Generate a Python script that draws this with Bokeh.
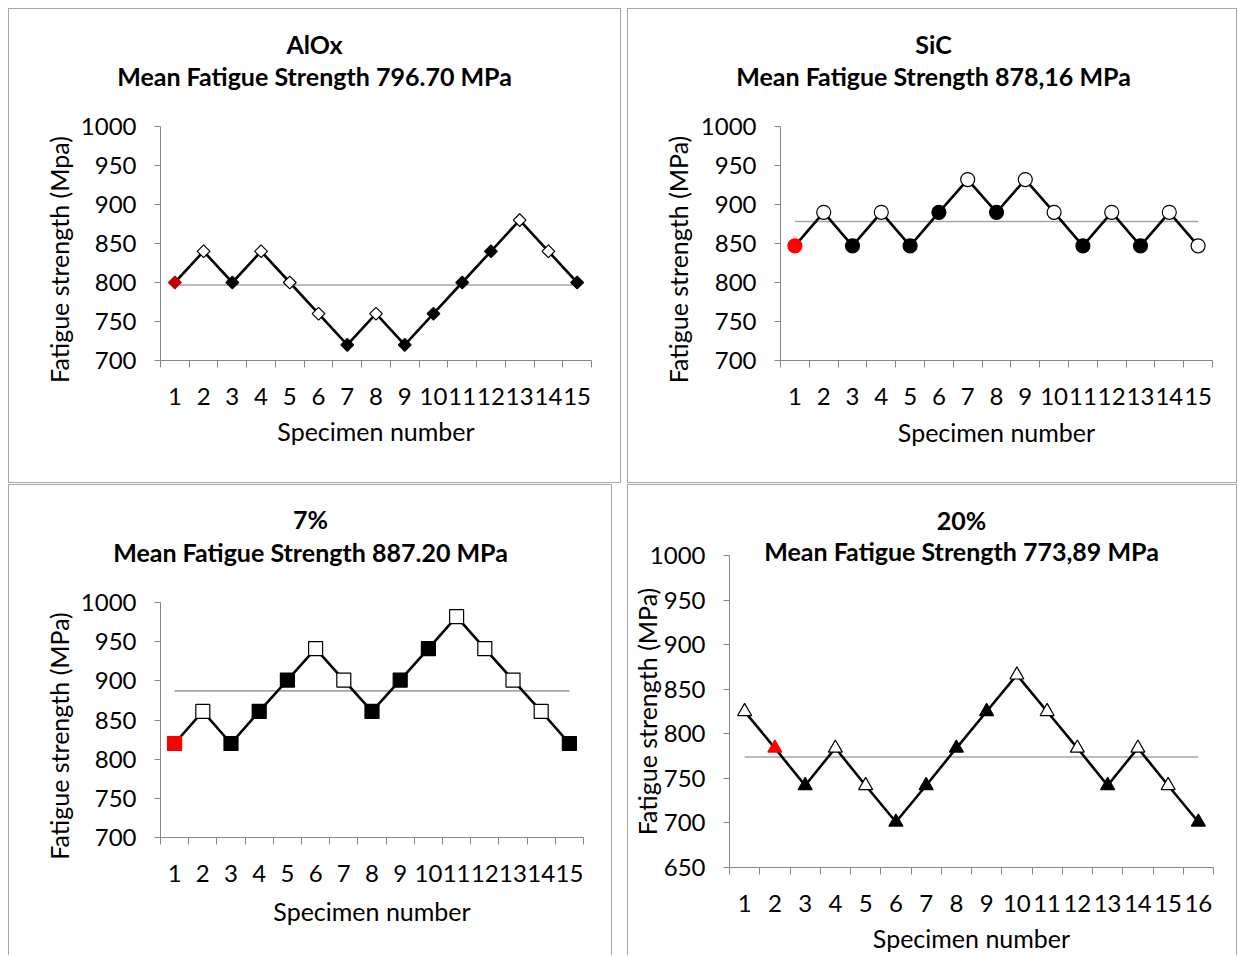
import math
import subprocess
from bokeh.plotting import figure
from bokeh.models import Range1d, FixedTicker, ColumnDataSource, Title
from bokeh.layouts import row, column
from bokeh.embed import file_html
from bokeh.resources import INLINE

# ---------------- data ----------------
specimens_15 = list(range(1, 16))
specimens_16 = list(range(1, 17))

yticks_700 = [700, 750, 800, 850, 900, 950, 1000]
yticks_650 = [650, 700, 750, 800, 850, 900, 950, 1000]

# outcome: S = start specimen (red), R = run-out (open), F = failure (filled)
alox_strength = [800, 840, 800, 840, 800, 760, 720, 760, 720, 760, 800, 840, 880, 840, 800]
alox_outcome = ["S", "R", "F", "R", "R", "R", "F", "R", "F", "F", "F", "F", "R", "R", "F"]
alox_mean = 796.70

sic_strength = [847, 890, 847, 890, 847, 890, 932, 890, 932, 890, 847, 890, 847, 890, 847]
sic_outcome = ["S", "R", "F", "R", "F", "F", "R", "F", "R", "R", "F", "R", "F", "R", "R"]
sic_mean = 878.16

p7_strength = [820, 861, 820, 861, 901, 941, 901, 861, 901, 941, 982, 941, 901, 861, 820]
p7_outcome = ["S", "R", "F", "F", "F", "R", "R", "F", "F", "F", "R", "R", "R", "R", "F"]
p7_mean = 887.20

p20_strength = [825, 784, 742, 784, 742, 701, 742, 784, 825, 866, 825, 784, 742, 784, 742, 701]
p20_outcome = ["R", "S", "F", "R", "R", "F", "F", "F", "F", "R", "R", "R", "F", "R", "R", "F"]
p20_mean = 773.89

titles = [
    ("AlOx", "Mean Fatigue Strength 796.70 MPa"),
    ("SiC", "Mean Fatigue Strength 878,16  MPa"),
    ("7%", "Mean Fatigue Strength 887.20 MPa"),
    ("20%", "Mean Fatigue Strength 773,89 MPa"),
]
y_labels = ["Fatigue strength (Mpa)", "Fatigue strength (MPa)",
            "Fatigue strength (MPa)", "Fatigue strength (MPa)"]
x_label = "Specimen number"

FONT = "Lato"
AXIS_GRAY = "#868686"
BORDER = "1px solid #a6a6a6"
TITLE_PX = 25
LABEL_PX = 25
T_H = 31.1      # height Bokeh gives one title line at TITLE_PX
VIS = 1.3       # visual centre of capitals sits this much above the box centre


def text_width(text, size, bold):
    try:
        from PIL import ImageFont
        path = subprocess.run(["fc-match", "-f", "%{file}", "Lato:bold" if bold else "Lato"],
                              capture_output=True, text=True, timeout=5).stdout.strip()
        f = ImageFont.truetype(path, size)
        return f.getlength(text)
    except Exception:
        return 0.55 * size * len(text)


def add_titles(p, lines, d2, d1, cx):
    """Title lines whose centres lie d2 and d1 pixels above the frame top,
    horizontally centred at cx (pixels right of the frame's left edge)."""
    T = T_H
    w1 = text_width(" ".join(lines[0].split()), TITLE_PX, True)
    w2 = text_width(" ".join(lines[1].split()), TITLE_PX, True)
    kw = dict(text_font=FONT, text_font_style="bold", text_font_size=f"{TITLE_PX}px",
              text_color="black", align="left")
    spacer = 0.0
    s2 = 2 * (d2 - T / 2 - VIS)
    if s2 > 0:
        spacer = s2 / 2
        s2 = 0.0
    if spacer > 0:
        p.add_layout(Title(text=" ", text_font_size="1px", standoff=spacer - 1.2,
                           align="left", offset=0), "above")
    p.add_layout(Title(text=lines[1], standoff=s2, vertical_align="bottom",
                       offset=cx - w2 / 2, **kw), "above")
    panel2_top = spacer + T + s2
    s1 = 2 * (d1 - panel2_top - T / 2 - VIS)
    p.add_layout(Title(text=lines[0], standoff=s1, vertical_align="bottom",
                       offset=cx - w1 / 2, **kw), "above")


def style_label(ax, text, standoff):
    ax.axis_label = text
    ax.axis_label_text_font = FONT
    ax.axis_label_text_font_size = f"{LABEL_PX}px"
    ax.axis_label_text_font_style = "normal"
    ax.axis_label_text_color = "black"
    ax.axis_label_standoff = standoff


def shifted_label(text, shift_px):
    """The value-axis title sits shift_px below the plot's middle: pad its far end
    with no-break spaces so that the centred label moves along the axis."""
    if shift_px <= 0:
        return text
    nb = text_width("\u00a0", LABEL_PX, False)
    if nb <= 0:
        nb = 0.2 * LABEL_PX
    return text + "\u00a0" * max(0, round(2 * shift_px / nb))


def make_panel(spec, strength, outcome, mean, yticks, title, ylab,
               marker, marker_size, red, angle,
               w, h, ml, mr, mt, mb, title_cx, d1, d2,
               ylab_standoff, xlab_standoff, ylab_shift, border_styles):
    n = len(spec)
    p = figure(width=w, height=h, output_backend="svg", toolbar_location=None,
               x_range=Range1d(0.5, n + 0.5),
               y_range=Range1d(yticks[0], yticks[-1]),
               min_border_left=ml, min_border_right=mr,
               min_border_top=mt, min_border_bottom=mb,
               outline_line_color=None, background_fill_color="white",
               border_fill_color="white", styles=border_styles)
    p.xgrid.visible = False
    p.ygrid.visible = False

    xa = p.xaxis[0]
    xa.ticker = FixedTicker(ticks=spec, minor_ticks=[k - 0.5 for k in spec] + [n + 0.5])
    xa.major_tick_out = 0
    xa.major_tick_in = 0
    xa.minor_tick_out = 7
    xa.minor_tick_in = 0
    xa.minor_tick_line_color = AXIS_GRAY
    xa.axis_line_color = AXIS_GRAY
    xa.major_label_text_font = FONT
    xa.major_label_text_font_size = "24px"
    xa.major_label_text_color = "black"
    xa.major_label_standoff = 20
    style_label(xa, x_label, xlab_standoff)

    ya = p.yaxis[0]
    ya.ticker = FixedTicker(ticks=yticks, minor_ticks=[])
    ya.major_tick_out = 6
    ya.major_tick_in = 0
    ya.minor_tick_out = 0
    ya.minor_tick_in = 0
    ya.major_tick_line_color = AXIS_GRAY
    ya.axis_line_color = AXIS_GRAY
    ya.major_label_text_font = FONT
    ya.major_label_text_font_size = "24px"
    ya.major_label_text_color = "black"
    ya.major_label_standoff = 18
    style_label(ya, shifted_label(ylab, ylab_shift), ylab_standoff)

    # mean line
    p.line([spec[0], spec[-1]], [mean, mean], line_color="#a6a6a6", line_width=1.6)
    # staircase line
    p.line(spec, strength, line_color="black", line_width=2.6)

    fill = {"S": red, "R": "white", "F": "black"}
    edge = {"S": red, "R": "black", "F": "black"}
    src = ColumnDataSource(dict(
        x=spec, y=strength,
        fc=[fill[o] for o in outcome],
        lc=[edge[o] for o in outcome],
    ))
    p.scatter("x", "y", source=src, marker=marker, size=marker_size, angle=angle,
              fill_color="fc", line_color="lc", line_width=1.2)

    add_titles(p, title, d2, d1, title_cx)
    return p


top_border = {"border": BORDER}
bottom_row_border = {"border-left": BORDER, "border-top": BORDER, "border-right": BORDER}

p1 = make_panel(specimens_15, alox_strength, alox_outcome, alox_mean, yticks_700,
                titles[0], y_labels[0], "square", 9, "#c00000", math.pi / 4,
                613, 475, 151, 31, 117, 124, 154, 81, 50.5, 4, 8, 15.5, top_border)
p2 = make_panel(specimens_15, sic_strength, sic_outcome, sic_mean, yticks_700,
                titles[1], y_labels[1], "circle", 14, "#ff0000", 0,
                610, 475, 152, 26, 117, 124, 153, 81, 50.5, 5, 9, 15.5, top_border)
p3 = make_panel(specimens_15, p7_strength, p7_outcome, p7_mean, yticks_700,
                titles[2], y_labels[2], "square", 14, "#ff0000", 0,
                604, 471, 151, 30, 117, 119, 150, 83, 51, 4, 11, 15, bottom_row_border)
p4 = make_panel(specimens_16, p20_strength, p20_outcome, p20_mean, yticks_650,
                titles[3], y_labels[3], "triangle", 14, "#ff0000", 0,
                610, 471, 101, 25, 70, 89, 232, 37, 6.5, -15, 8, 0, bottom_row_border)

layout = column(row(column(p1), column(p2), spacing=6),
                row(column(p3), column(p4), spacing=15),
                spacing=1, margin=(8, 0, 0, 8))

open("out.html", "w").write(file_html(layout, INLINE))
